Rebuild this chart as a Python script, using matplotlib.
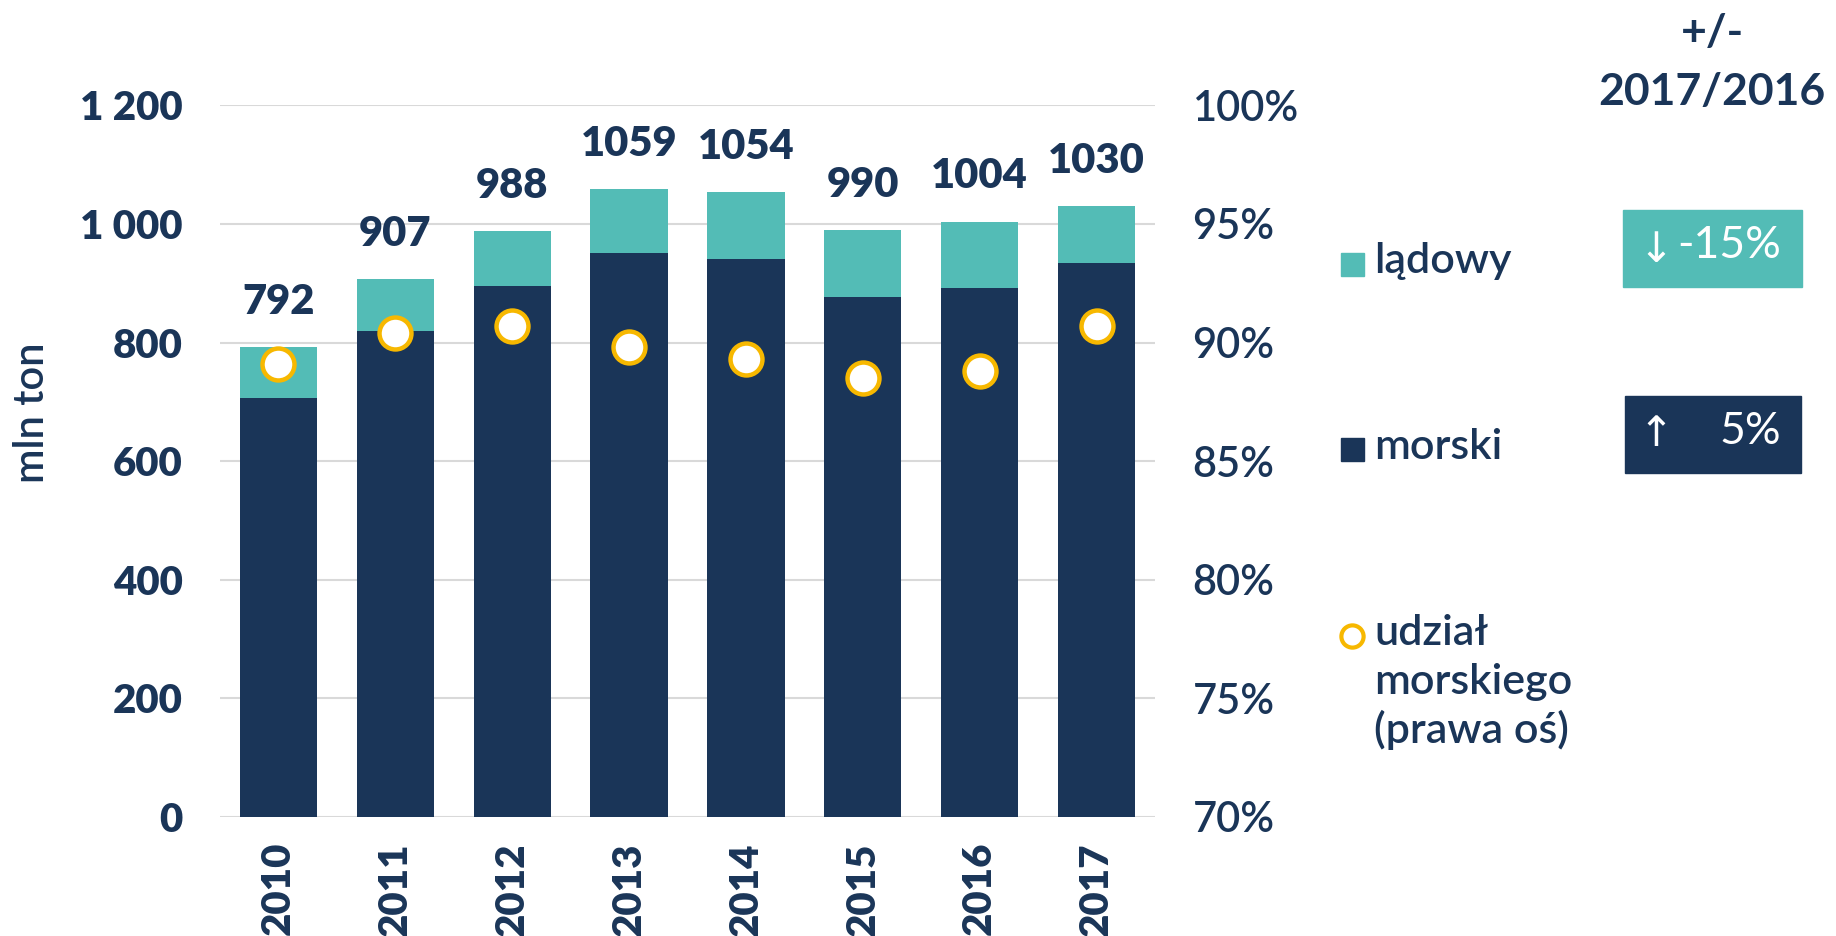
import numpy as np
import matplotlib.pyplot as plt
from matplotlib.patches import Rectangle

years = ['2010', '2011', '2012', '2013', '2014', '2015', '2016', '2017']
morski = [706, 820, 896, 951, 941, 876, 892, 934]
ladowy = [86, 87, 92, 108, 113, 114, 112, 96]
totals = [792, 907, 988, 1059, 1054, 990, 1004, 1030]
udzial = [89.1, 90.4, 90.7, 89.8, 89.3, 88.5, 88.8, 90.7]  # prawa os, %

left_ticks = [0, 200, 400, 600, 800, 1000, 1200]
left_labels = ['0', '200', '400', '600', '800', '1 000', '1 200']
right_ticks = [70, 75, 80, 85, 90, 95, 100]

navy = '#1a3558'
teal = '#53bcb6'
yellow = '#f7b800'
grid_c = '#d9d9d9'
fam = ['Lato', 'DejaVu Sans']
mid = 'semibold'  # medium-weight text
heavy = 'heavy'

plt.rcParams['font.family'] = fam

W, H = 1836, 936
fig = plt.figure(figsize=(W / 100, H / 100), dpi=100)
x0, x1, yb, yt = 220, 1155, 817, 105.3
ax = fig.add_axes([x0 / W, (H - yb) / H, (x1 - x0) / W, (yb - yt) / H])

x = np.arange(len(years))
ax.bar(x, morski, width=0.66, color=navy, zorder=2)
ax.bar(x, ladowy, width=0.66, bottom=morski, color=teal, zorder=2)

for xi, t in zip(x, totals):
    ax.annotate(str(t), (xi, t), xytext=(0, 24), textcoords='offset points',
                ha='center', va='baseline', fontsize=30, fontweight=heavy,
                color=navy)

ax.set_xlim(-0.5, len(years) - 0.5)
ax.set_ylim(0, 1200)
ax.set_yticks(left_ticks)
ax.set_yticklabels(left_labels)
ax.set_xticks(x)
ax.set_xticklabels(years, rotation=90)
ax.yaxis.grid(True, color=grid_c, linewidth=1.5, zorder=0)
ax.set_axisbelow(True)
ax.tick_params(axis='y', length=0, pad=27, labelsize=29, labelcolor=navy)
ax.tick_params(axis='x', length=0, pad=18, labelsize=29, labelcolor=navy)
for lab in ax.get_yticklabels() + ax.get_xticklabels():
    lab.set_fontweight(heavy)
for s in ax.spines.values():
    s.set_visible(False)

ax2 = ax.twinx()
ax2.plot(x, udzial, linestyle='none', marker='o', markersize=23,
         markerfacecolor='white', markeredgecolor=yellow, markeredgewidth=3.2,
         zorder=5)
ax2.set_ylim(70, 100)
ax2.set_yticks(right_ticks)
ax2.set_yticklabels([f'{v}%' for v in right_ticks])
ax2.tick_params(axis='y', length=0, pad=27, labelsize=30, labelcolor=navy)
for lab in ax2.get_yticklabels():
    lab.set_fontweight(mid)
for s in ax2.spines.values():
    s.set_visible(False)

fig.text(32 / W, 1 - 413 / H, 'mln ton', rotation=90, ha='center', va='center',
         fontsize=30, fontweight=mid, color=navy)

# overlay in pixel coordinates for legend and change boxes
ov = fig.add_axes([0, 0, 1, 1], zorder=10)
ov.set_xlim(0, W)
ov.set_ylim(H, 0)
ov.axis('off')

ov.add_patch(Rectangle((1341, 253), 23, 23, color=teal))
ov.text(1374, 273, 'lądowy', fontsize=31, fontweight=mid, color=navy,
        va='baseline')
ov.add_patch(Rectangle((1341, 438), 23, 23, color=navy))
ov.text(1374, 459, 'morski', fontsize=31, fontweight=mid, color=navy,
        va='baseline')
ov.plot([1352], [636], marker='o', markersize=16, markerfacecolor='white',
        markeredgecolor=yellow, markeredgewidth=3)
for i, line in enumerate(['udział', 'morskiego', '(prawa oś)']):
    ov.text(1374, 645 + i * 49, line, fontsize=31, fontweight=mid,
            color=navy, va='baseline')

ov.text(1712, 33, '+/-', fontsize=32, fontweight='bold', color=navy,
        ha='center', va='center')
ov.text(1712, 92, '2017/2016', fontsize=32, fontweight='bold', color=navy,
        ha='center', va='center')

ov.add_patch(Rectangle((1623, 210), 179, 77, color=teal))
ov.text(1656, 250, '↓', fontsize=30, color='white', ha='center', va='center',
        family=['DejaVu Sans'])
ov.text(1781, 246, '-15%', fontsize=32, color='white', ha='right', va='center')
ov.add_patch(Rectangle((1625, 396), 176, 77, color=navy))
ov.text(1656, 434, '↑', fontsize=30, color='white', ha='center', va='center',
        family=['DejaVu Sans'])
ov.text(1781, 432, '5%', fontsize=32, color='white', ha='right', va='center')

fig.savefig('out.png', dpi=100, facecolor='white')
